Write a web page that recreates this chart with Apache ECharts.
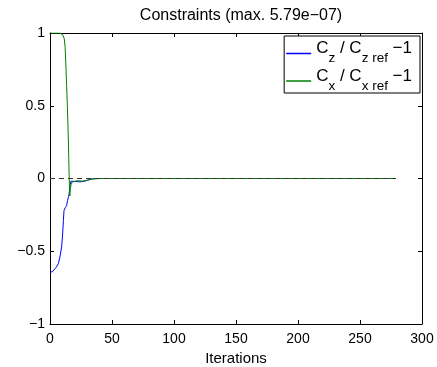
<!DOCTYPE html>
<html>
<head>
<meta charset="utf-8">
<script src="https://cdn.jsdelivr.net/npm/echarts@6/dist/echarts.min.js"></script>
<style>
  html, body { margin: 0; padding: 0; background: #fff; }
  #chart { width: 437px; height: 367px; }
</style>
</head>
<body>
<div id="chart"></div>
<script>
// iterations / values
var iterCz = [0, 2, 3.5, 5, 6.7, 8, 9.4, 10.2, 10.8, 11.3, 12.4, 13.4, 14.2, 15, 15.6, 16.1, 16.9, 18, 20, 24, 27, 29.6, 32, 34, 36, 40, 279];
var valCz  = [-0.645, -0.64, -0.63, -0.61, -0.586, -0.54, -0.47, -0.38, -0.29, -0.22, -0.2, -0.185, -0.15, -0.124, -0.094, -0.048, -0.018, -0.017, -0.02, -0.023, -0.02, -0.014, -0.007, -0.003, -0.001, 0, 0];

var iterCx = [0, 8, 9.5, 10.5, 11.5, 12.2, 12.8, 13.4, 14, 14.6, 15.1, 15.5, 15.8, 16, 16.5, 17, 17.7, 19, 22, 26, 30, 33, 36, 40, 279];
var valCx  = [1, 1, 0.995, 0.985, 0.96, 0.9, 0.78, 0.64, 0.5, 0.33, 0.15, 0, -0.1, -0.12, -0.07, -0.04, -0.025, -0.015, -0.015, -0.018, -0.012, -0.006, -0.002, 0, 0];

// dashed zero reference
var refX = [0, 279];
var refY = [0, 0];

var xTicks = {min: 0, max: 300, interval: 50};
var yTicks = {min: -1, max: 1, interval: 0.5};

function zip(xs, ys) {
	var out = [];
	for (var i = 0; i < xs.length; i++) out.push([xs[i], ys[i]]);
	return out;
}

var font = 'Liberation Sans, Arial, Helvetica, sans-serif';
var chart = echarts.init(document.getElementById('chart'));

function axisBase(pos) {
	return {
		type: 'value',
		position: pos,
		axisLine: {show: true, onZero: false, lineStyle: {color: '#000', width: 1}},
		axisTick: {show: true, inside: true, length: 4, lineStyle: {color: '#000'}},
		splitLine: {show: false}
	};
}

var xBottom = Object.assign(axisBase('bottom'), xTicks, {
	axisLabel: {margin: 8, color: '#000', fontSize: 14, fontFamily: font},
	name: 'Iterations',
	nameLocation: 'middle',
	nameGap: 25,
	nameTextStyle: {color: '#000', fontSize: 15, fontFamily: font}
});
var xTop = Object.assign(axisBase('top'), xTicks, {axisLabel: {show: false}});

var yLeft = Object.assign(axisBase('left'), yTicks, {
	axisLabel: {
		margin: 5, color: '#000', fontSize: 14, fontFamily: font,
		formatter: function (v) { return String(v).replace('-', '\u2212'); }
	}
});
var yRight = Object.assign(axisBase('right'), yTicks, {axisLabel: {show: false}});

var option = {
	animation: false,
	backgroundColor: '#fff',
	title: {
		text: 'Constraints (max. 5.79e\u221207)',
		left: 236,
		textAlign: 'center',
		top: 3,
		textStyle: {color: '#000', fontSize: 16, fontWeight: 'normal', fontFamily: font}
	},
	grid: {left: 50, right: 15, top: 33, bottom: 43, containLabel: false, outerBoundsMode: 'none'},
	legend: {
		data: ['Cz', 'Cx'],
		orient: 'vertical',
		right: 17,
		top: 36,
		selectedMode: false,
		backgroundColor: '#fff',
		borderColor: '#000',
		borderWidth: 1,
		borderRadius: 0,
		padding: [4, 8, 0, 2],
		itemGap: 2,
		itemWidth: 25,
		itemHeight: 1.5,
		icon: 'rect',
		formatter: function (name) {
			var s = name === 'Cz' ? 'z' : 'x';
			return '{b|C}{s|' + s + '}{b| / C}{s|' + s + ' ref}{b| \u22121}';
		},
		textStyle: {
			color: '#000',
			fontFamily: font,
			rich: {
				b: {fontSize: 17, padding: [0, 0, 10, 0], fontFamily: font, color: '#000'},
				s: {fontSize: 13.5, padding: [10, 0, 0, 0], fontFamily: font, color: '#000'}
			}
		}
	},
	xAxis: [xBottom, xTop],
	yAxis: [yLeft, yRight],
	series: [
		{
			name: 'Cz',
			type: 'line',
			symbol: 'none',
			color: '#0000ff',
			lineStyle: {color: '#0000ff', width: 1},
			data: zip(iterCz, valCz),
			z: 2
		},
		{
			name: 'Cx',
			type: 'line',
			symbol: 'none',
			color: '#008000',
			lineStyle: {color: '#008000', width: 1},
			data: zip(iterCx, valCx),
			z: 3
		},
		{
			name: 'ref',
			type: 'line',
			symbol: 'none',
			silent: true,
			lineStyle: {color: '#333', width: 1, type: [5, 4]},
			data: zip(refX, refY),
			z: 4
		}
	]
};

chart.setOption(option);
</script>
</body>
</html>
